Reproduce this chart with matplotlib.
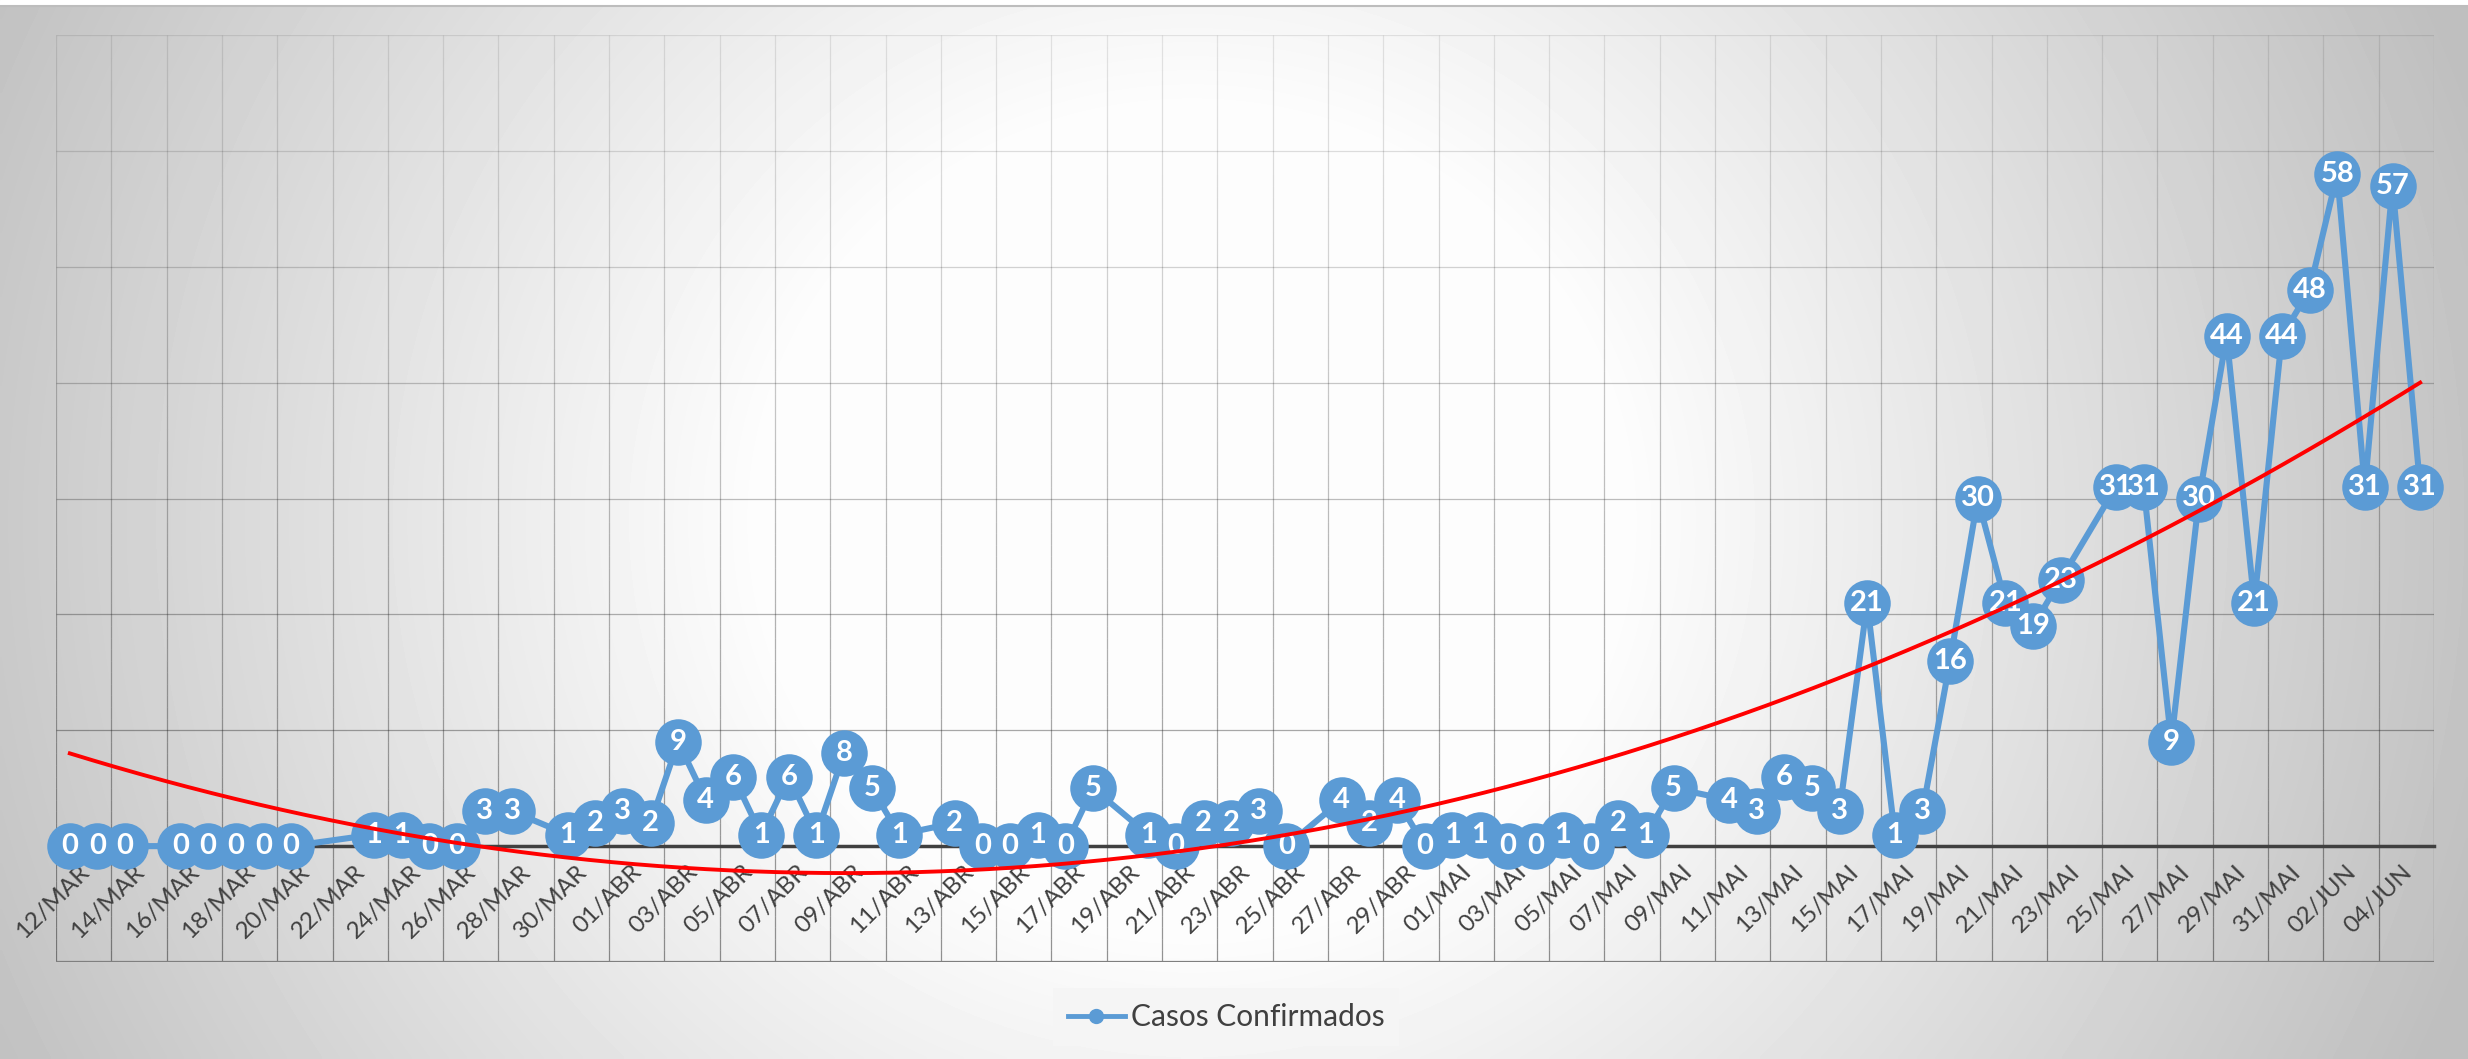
import numpy as np
import matplotlib
matplotlib.use("Agg")
import matplotlib.pyplot as plt
from matplotlib.collections import LineCollection
from matplotlib.lines import Line2D
from matplotlib.patches import Rectangle
from datetime import date

# Daily confirmed cases (days without a record are simply absent)
datas = ["12/MAR", "13/MAR", "14/MAR", "16/MAR", "17/MAR", "18/MAR", "19/MAR", "20/MAR",
         "23/MAR", "24/MAR", "25/MAR", "26/MAR", "27/MAR", "28/MAR", "30/MAR", "31/MAR",
         "01/ABR", "02/ABR", "03/ABR", "04/ABR", "05/ABR", "06/ABR", "07/ABR", "08/ABR",
         "09/ABR", "10/ABR", "11/ABR", "13/ABR", "14/ABR", "15/ABR", "16/ABR", "17/ABR",
         "18/ABR", "20/ABR", "21/ABR", "22/ABR", "23/ABR", "24/ABR", "25/ABR", "27/ABR",
         "28/ABR", "29/ABR", "30/ABR", "01/MAI", "02/MAI", "03/MAI", "04/MAI", "05/MAI",
         "06/MAI", "07/MAI", "08/MAI", "09/MAI", "11/MAI", "12/MAI", "13/MAI", "14/MAI",
         "15/MAI", "16/MAI", "17/MAI", "18/MAI", "19/MAI", "20/MAI", "21/MAI", "22/MAI",
         "23/MAI", "25/MAI", "26/MAI", "27/MAI", "28/MAI", "29/MAI", "30/MAI", "31/MAI",
         "01/JUN", "02/JUN", "03/JUN", "04/JUN", "05/JUN"]
casos = [0, 0, 0, 0, 0, 0, 0, 0,
         1, 1, 0, 0, 3, 3, 1, 2,
         3, 2, 9, 4, 6, 1, 6, 1,
         8, 5, 1, 2, 0, 0, 1, 0,
         5, 1, 0, 2, 2, 3, 0, 4,
         2, 4, 0, 1, 1, 0, 0, 1,
         0, 2, 1, 5, 4, 3, 6, 5,
         3, 21, 1, 3, 16, 30, 21, 19,
         23, 31, 31, 9, 30, 44, 21, 44,
         48, 58, 31, 57, 31]

rotulos_x = ["12/MAR", "14/MAR", "16/MAR", "18/MAR", "20/MAR", "22/MAR", "24/MAR",
             "26/MAR", "28/MAR", "30/MAR", "01/ABR", "03/ABR", "05/ABR", "07/ABR",
             "09/ABR", "11/ABR", "13/ABR", "15/ABR", "17/ABR", "19/ABR", "21/ABR",
             "23/ABR", "25/ABR", "27/ABR", "29/ABR", "01/MAI", "03/MAI", "05/MAI",
             "07/MAI", "09/MAI", "11/MAI", "13/MAI", "15/MAI", "17/MAI", "19/MAI",
             "21/MAI", "23/MAI", "25/MAI", "27/MAI", "29/MAI", "31/MAI", "02/JUN",
             "04/JUN"]

MESES = {"MAR": 3, "ABR": 4, "MAI": 5, "JUN": 6}
INICIO = date(2020, 3, 12)


# Converts "dd/MMM" into days since the first date
def dia(txt):
    d, m = txt.split("/")
    return (date(2020, MESES[m], int(d)) - INICIO).days


x = np.array([dia(d) for d in datas], dtype=float)
y = np.array(casos, dtype=float)
x_rot = np.array([dia(d) for d in rotulos_x], dtype=float)

W, H, DPI = 2468, 1059, 100
plt.rcParams['font.family'] = ['Lato', 'DejaVu Sans']

fig = plt.figure(figsize=(W / DPI, H / DPI), dpi=DPI)
fig.patch.set_facecolor('white')

# Radial grey background
bg = fig.add_axes([0, 0, 1, 1], zorder=-10)
gy, gx = np.mgrid[0:H:4, 0:W:4]
r = np.hypot(gx - 1190, (gy - 520) * 1.05)
t = np.clip((r - 430) / (1350 - 430), 0, 1)
img = 253 - 62 * t
bg.imshow(img, cmap='gray', vmin=0, vmax=255, extent=[0, 1, 0, 1],
          aspect='auto', interpolation='bilinear')
bg.axis('off')
fig.add_artist(Rectangle((0, 1 - 5 / H), 1, 5 / H, transform=fig.transFigure,
                         color='white', zorder=1))
fig.add_artist(Line2D([0, 1], [1 - 5.5 / H] * 2, transform=fig.transFigure,
                      color='#bdbdbd', lw=1.5))

L, R, T, B = 56, 2434, 35, 962
ax = fig.add_axes([L / W, 1 - B / H, (R - L) / W, (B - T) / H])
ax.set_facecolor('none')
ax.set_xlim(-0.5, 85.5)
ax.set_ylim(-10, 70)


# gridlines get darker towards the bottom of the plot
def alpha_grade(v):
    return 0.42 - 0.33 * (v + 10) / 80


segs, cores = [], []
ys = np.linspace(-10, 70, 81)
for xv in np.arange(-0.5, 86, 2):
    for y0, y1 in zip(ys[:-1], ys[1:]):
        segs.append([(xv, y0), (xv, y1)])
        cores.append((0, 0, 0, alpha_grade((y0 + y1) / 2)))
for yv in range(10, 71, 10):
    segs.append([(-0.5, yv), (85.5, yv)])
    cores.append((0, 0, 0, alpha_grade(yv)))
ax.add_collection(LineCollection(segs, colors=cores, linewidths=0.9, zorder=1))
ax.axhline(-10, color='#7f7f7f', lw=1.6, zorder=1)

for s in ['top', 'right', 'left']:
    ax.spines[s].set_visible(False)
ax.spines['bottom'].set_position(('data', 0))
ax.spines['bottom'].set_color('#404040')
ax.spines['bottom'].set_linewidth(2.5)
ax.spines['bottom'].set_zorder(2)
ax.set_yticks([])

ax.set_xticks(x_rot + 0.3)
ax.set_xticklabels(rotulos_x)
ax.tick_params(axis='x', length=0, pad=11, labelsize=17.5, labelcolor='#404040')
plt.setp(ax.get_xticklabels(), rotation=45, ha='right', va='top',
         rotation_mode='anchor')

azul = '#5B9BD5'
ax.plot(x, y, '-o', color=azul, lw=4.4, ms=33.5, mew=0, zorder=3,
        solid_joinstyle='round', clip_on=False)
for xi, yi, v in zip(x, y, casos):
    ax.text(xi, yi, str(v), ha='center', va='center', color='white',
            fontsize=21, fontweight='bold', zorder=4)

# Polynomial (order 2) trendline
coef = np.polyfit(x, y, 2)
xt = np.linspace(x[0], x[-1], 400)
ax.plot(xt, np.polyval(coef, xt), color='red', lw=2.8, zorder=5)

hnd = Line2D([], [], color=azul, lw=3.5, marker='o', ms=11, mew=0)
leg = ax.legend([hnd], ['Casos Confirmados'], loc='center',
                bbox_to_anchor=(1226 / W, 1 - 1017 / H), bbox_transform=fig.transFigure,
                frameon=True, fancybox=False, facecolor='#f5f5f5', edgecolor='none',
                framealpha=1, fontsize=21.5, handlelength=1.9, handletextpad=0.2,
                borderpad=0.5)
for txt in leg.get_texts():
    txt.set_color('#404040')

fig.savefig('out.png', dpi=DPI)
